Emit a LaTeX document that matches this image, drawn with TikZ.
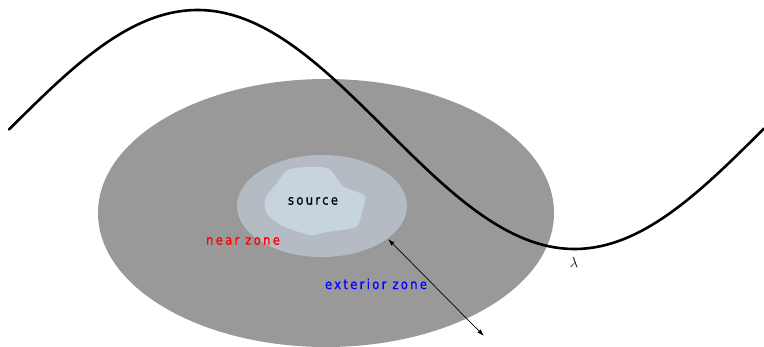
\documentclass[tikz,border=0pt]{standalone}
\usepackage{fontspec}
\usepackage{amsmath}
\usetikzlibrary{arrows.meta}
\newfontfamily\zonefont[LetterSpace=17,FakeStretch=0.86,FakeBold=0.6]{DejaVu Sans}
\definecolor{farzone}{RGB}{153,153,153}
\definecolor{nearzone}{RGB}{180,187,194}
\definecolor{srczone}{RGB}{199,211,221}

\begin{document}
\begin{tikzpicture}[x=1pt,y=-1pt,>={Latex[length=7pt,width=4.5pt]},
  zonelabel/.style={font=\zonefont\fontsize{13.5}{15}\selectfont,inner sep=0pt}]

  \useasboundingbox (0,0) rectangle (764,346);
  \clip (0,0) rectangle (764,346);

  % zones
  \fill[farzone] (326,213) ellipse [x radius=228,y radius=134];
  \fill[nearzone] (322,206) ellipse [x radius=85,y radius=51];
  \fill[srczone] plot[smooth cycle,tension=0.45] coordinates {
    (290,169) (327,168) (343,186) (365,196) (362,211) (356,227)
    (327,232) (310,235) (283,226) (267,214) (265,199) (277,183)};

  % wave
  \draw[line width=2.6pt,line cap=round] plot[domain=9:764,samples=120,smooth]
    (\x,{129.5-119.5*sin(0.47745*(\x-9))});

  \node[zonelabel] (src) at (313,201) {source};
  \node[zonelabel,red] (near) at (243,241) {near zone};
  \node[zonelabel,blue] (ext) at (376,284) {exterior zone};
  \node[inner sep=0pt] (lam) at (574,262) {\Large $\lambda$};

  \coordinate (nearedge) at (388,239);
  \coordinate (farend) at (484,336);
  \draw[<->,line width=0.7pt] (nearedge) -- (farend);
\end{tikzpicture}
\end{document}
